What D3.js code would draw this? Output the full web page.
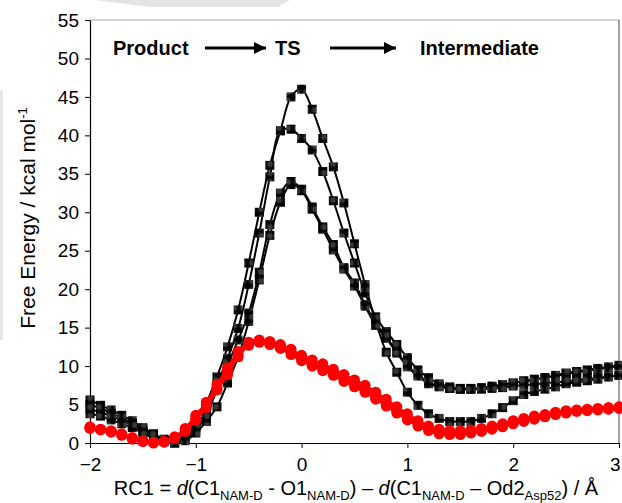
<!DOCTYPE html>
<html>
<head>
<meta charset="utf-8">
<script src="https://cdn.jsdelivr.net/npm/d3@7"></script>
<style>
  body { margin: 0; background: #fff; }
  svg text { font-family: "Liberation Sans", Arial, sans-serif; }
</style>
</head>
<body>
<div id="chart"></div>
<script>
const W = 622, H = 503
const MARGIN = {TOP: 20, BOTTOM: 60, LEFT: 90, RIGHT: 3}
const WIDTH = W - MARGIN.LEFT - MARGIN.RIGHT
const HEIGHT = H - MARGIN.TOP - MARGIN.BOTTOM

// reaction coordinate (Å)
const rc = [-2.0, -1.9, -1.8, -1.7, -1.6, -1.5, -1.4, -1.3, -1.2, -1.1,
    -1.0, -0.9, -0.8, -0.7, -0.6, -0.5, -0.4, -0.3, -0.2, -0.1,
    0.0, 0.1, 0.2, 0.3, 0.4, 0.5, 0.6, 0.7, 0.8, 0.9,
    1.0, 1.1, 1.2, 1.3, 1.4, 1.5, 1.6, 1.7, 1.8, 1.9,
    2.0, 2.1, 2.2, 2.3, 2.4, 2.5, 2.6, 2.7, 2.8, 2.9, 3.0]

// black profiles (squares)
const blackA = [5.6, 4.9, 4.3, 3.6, 2.9, 2.0, 1.2, 0.5, 0.1,
    0.9, 2.6, 5.2, 8.6, 12.5, 17.3, 23.4, 30.0, 36.1, 40.6, 45.0, 46.0,
    43.4, 39.6, 35.9, 31.2, 25.9, 20.6, 15.8, 11.8, 9.2, 6.6,
    4.9, 3.8, 3.2, 2.8, 2.8, 2.8, 3.2, 3.8, 4.6, 5.5,
    6.3, 6.7, 7.0, 7.3, 7.7, 7.9, 8.1, 8.3, 8.6, 8.8]
const blackB = [5.0, 4.5, 3.9, 3.2, 2.6, 1.8, 1.0, 0.4, 0.0,
    0.7, 2.0, 4.3, 7.6, 11.0, 14.9, 20.6, 27.3, 34.6, 40.6, 40.8, 39.6,
    38.1, 35.3, 31.5, 27.3, 23.4, 19.5, 16.4, 14.5, 12.8, 11.1,
    9.5, 8.5, 7.7, 7.3, 7.1, 7.1, 7.2, 7.4, 7.6, 7.8,
    8.1, 8.3, 8.5, 8.8, 9.1, 9.3, 9.5, 9.7, 9.9, 10.1]
const blackC = [4.4, 4.0, 3.5, 2.9, 2.3, 1.5, 0.8, 0.3, 0.1,
    0.5, 1.6, 3.7, 6.9, 10.1, 13.4, 16.9, 22.2, 28.4, 32.5, 34.0, 33.0,
    30.7, 28.1, 25.8, 22.8, 20.8, 18.0, 15.6, 13.8, 11.9, 10.1,
    8.9, 7.9, 7.4, 7.1, 7.0, 7.0, 7.1, 7.3, 7.5, 7.8,
    8.0, 8.2, 8.5, 8.7, 9.0, 9.2, 9.4, 9.6, 9.8, 10.0]
const blackD = [3.8, 3.5, 3.0, 2.5, 2.0, 1.3, 0.6, 0.2, 0.0,
    0.3, 1.3, 2.8, 4.7, 7.8, 11.2, 15.8, 21.2, 27.0, 31.3, 33.6, 32.8,
    30.4, 27.8, 25.1, 22.6, 20.4, 17.8, 15.3, 13.6, 11.7, 9.9,
    8.7, 7.7, 7.3, 7.1, 7.0, 7.0, 7.0, 7.1, 7.2, 7.4,
    7.5, 7.6, 7.8, 7.9, 8.0, 8.2, 8.3, 8.5, 8.6, 8.8]

// red profiles (circles)
const red1 = [2.0, 1.75, 1.5, 1.1, 0.6, 0.2, 0.1, 0.15, 0.7,
    1.7, 3.3, 4.9, 7.2, 9.3, 11.5, 12.9, 13.2, 13.0, 12.5, 11.8, 11.0,
    10.3, 9.8, 9.1, 8.4, 7.7, 7.0, 6.1, 5.2, 4.2, 3.3,
    2.5, 1.8, 1.4, 1.3, 1.3, 1.5, 1.7, 2.0, 2.3, 2.7,
    3.0, 3.3, 3.6, 3.9, 4.1, 4.2, 4.3, 4.4, 4.5, 4.6]
const red2 = [2.1, 1.8, 1.6, 1.2, 0.7, 0.3, 0.1, 0.2, 0.8,
    1.9, 3.6, 5.3, 7.6, 9.8, 11.9, 13.1, 13.4, 13.2, 12.8, 12.2, 11.4,
    10.8, 10.3, 9.6, 8.9, 8.2, 7.5, 6.6, 5.7, 4.7, 3.8,
    2.9, 2.2, 1.8, 1.6, 1.6, 1.7, 1.9, 2.2, 2.5, 2.9,
    3.2, 3.5, 3.7, 4.0, 4.2, 4.3, 4.4, 4.5, 4.6, 4.7]
const red3 = [1.9, 1.7, 1.4, 1.0, 0.5, 0.2, 0.0, 0.1, 0.6,
    1.5, 3.0, 4.6, 6.9, 8.9, 11.2, 12.7, 13.1, 12.8, 12.3, 11.5, 10.7,
    10.0, 9.4, 8.8, 8.0, 7.3, 6.6, 5.7, 4.8, 3.9, 3.0,
    2.2, 1.6, 1.2, 1.1, 1.1, 1.3, 1.5, 1.8, 2.1, 2.5,
    2.8, 3.1, 3.4, 3.7, 3.9, 4.1, 4.2, 4.3, 4.4, 4.5]

const xTicks = [-2, -1, 0, 1, 2, 3]
const yTicks = [0, 5, 10, 15, 20, 25, 30, 35, 40, 45, 50, 55]

const svg0 = d3.select('#chart').append('svg')
    .attr('width', W)
    .attr('height', H)

// faint scan shadows from the source image
svg0.append('path')
    .attr('d', 'M95,0 L290,0 L278,7 L150,7 Z')
    .attr('fill', '#e4e4e4')
svg0.append('rect')
    .attr('x', 0).attr('y', 90).attr('width', 3).attr('height', 250)
    .attr('fill', '#e8e8e8')

const defs = svg0.append('defs')
const pat = defs.append('pattern')
    .attr('id', 'hatch')
    .attr('patternUnits', 'userSpaceOnUse')
    .attr('width', 9).attr('height', 9)
    .attr('x', -4.5).attr('y', -4.5)
pat.append('rect').attr('width', 9).attr('height', 9).attr('fill', '#000')
pat.append('path')
    .attr('d', 'M3.5,1V8M5.5,1V8M1,3.5H8M1,5.5H8')
    .attr('stroke', '#555').attr('stroke-width', 0.8)

const svg = svg0.append('g')
    .attr('transform', `translate(${MARGIN.LEFT}, ${MARGIN.TOP})`)

const x = d3.scaleLinear().domain([-2, 3]).range([0, WIDTH])
const y = d3.scaleLinear().domain([0, 55]).range([HEIGHT, 0])

// frame (top/right)
svg.append('line')
    .attr('x1', 0).attr('x2', WIDTH).attr('y1', 0).attr('y2', 0)
    .attr('stroke', '#aaa')
svg.append('line')
    .attr('x1', WIDTH).attr('x2', WIDTH).attr('y1', 0).attr('y2', HEIGHT)
    .attr('stroke', '#444')

const xAxisCall = d3.axisBottom(x).tickValues(xTicks).tickSize(5).tickSizeOuter(0)
    .tickFormat(d3.format('d'))
const xAxis = svg.append('g')
    .attr('transform', `translate(0, ${HEIGHT})`)
    .call(xAxisCall)

const yAxisCall = d3.axisLeft(y).tickValues(yTicks).tickSize(5).tickSizeOuter(0)
const yAxis = svg.append('g').call(yAxisCall)

;[xAxis, yAxis].forEach(g => {
    g.select('.domain').attr('stroke', '#000').attr('stroke-width', 1.2)
    g.selectAll('.tick line').attr('stroke', '#000')
    g.selectAll('.tick text')
        .attr('font-family', '"Liberation Sans", Arial, sans-serif')
        .attr('font-size', 19)
        .attr('fill', '#000')
})
xAxis.selectAll('.tick text').attr('dy', '1.05em')
xAxis.selectAll('.tick text').filter(d => d === 3).attr('text-anchor', 'end').attr('dx', 1)
yAxis.selectAll('.tick text').attr('x', -11)

const line = d3.line()
    .x((d, i) => x(rc[i]))
    .y(d => y(d))
    .curve(d3.curveCatmullRom)

const blacks = [blackA, blackB, blackC, blackD]
const reds = [red1, red2, red3]

blacks.forEach(s => {
    svg.append('path')
        .attr('d', line(s))
        .attr('fill', 'none')
        .attr('stroke', '#000')
        .attr('stroke-width', 2)
})
blacks.forEach(s => {
    svg.append('g').selectAll('rect')
        .data(s)
        .enter().append('rect')
        .attr('x', (d, i) => x(rc[i]) - 4.5)
        .attr('y', d => y(d) - 4.5)
        .attr('width', 9)
        .attr('height', 9)
        .attr('fill', 'url(#hatch)')
})

reds.forEach(s => {
    svg.append('path')
        .attr('d', line(s))
        .attr('fill', 'none')
        .attr('stroke', '#ff0000')
        .attr('stroke-width', 2.5)
})
reds.forEach(s => {
    svg.append('g').selectAll('circle')
        .data(s)
        .enter().append('circle')
        .attr('cx', (d, i) => x(rc[i]))
        .attr('cy', d => y(d))
        .attr('r', 5.5)
        .attr('fill', '#ff0000')
})

// reaction direction caption
const cap = svg0.append('g')
    .attr('font-weight', 'bold')
    .attr('font-size', 20)
cap.append('text').attr('x', 113).attr('y', 55).text('Product')
cap.append('text').attr('x', 275).attr('y', 55).text('TS')
cap.append('text').attr('x', 420).attr('y', 55).text('Intermediate')
defs.append('marker')
    .attr('id', 'arrow')
    .attr('viewBox', '0 0 10 10')
    .attr('refX', 10).attr('refY', 5)
    .attr('markerWidth', 4).attr('markerHeight', 4)
    .attr('orient', 'auto')
    .append('path').attr('d', 'M0,0L10,5L0,10Z').attr('fill', '#000')
;[[205, 266], [330, 396]].forEach(a => {
    svg0.append('line')
        .attr('x1', a[0]).attr('x2', a[1])
        .attr('y1', 48).attr('y2', 48)
        .attr('stroke', '#000').attr('stroke-width', 3)
        .attr('marker-end', 'url(#arrow)')
})

// y label
const yl = svg0.append('text')
    .attr('transform', `translate(35, 218) rotate(-90)`)
    .attr('text-anchor', 'middle')
    .attr('font-size', 21)
yl.append('tspan').text('Free Energy / kcal mol')
yl.append('tspan').attr('font-size', 13).attr('dy', -8).text('-1')

// x label
const xl = svg0.append('text')
    .attr('x', 356)
    .attr('y', 495)
    .attr('text-anchor', 'middle')
    .attr('font-size', 20)
const parts = [
    ['RC1 = ', 0, null], ['d', 0, 'italic'], ['(C1', 0, null], ['NAM-D', 1, null],
    [' - O1', 0, null], ['NAM-D', 1, null], [') \u2013 ', 0, null], ['d', 0, 'italic'],
    ['(C1', 0, null], ['NAM-D', 1, null], [' \u2013 Od2', 0, null], ['Asp52', 1, null],
    [') / \u00c5', 0, null]
]
let sub = 0
parts.forEach(p => {
    const t = xl.append('tspan').text(p[0])
    if (p[2]) t.attr('font-style', p[2])
    if (p[1] && !sub) { t.attr('dy', 5).attr('font-size', 13); sub = 1 }
    else if (p[1]) { t.attr('font-size', 13) }
    else if (sub) { t.attr('dy', -5); sub = 0 }
})
</script>
</body>
</html>
